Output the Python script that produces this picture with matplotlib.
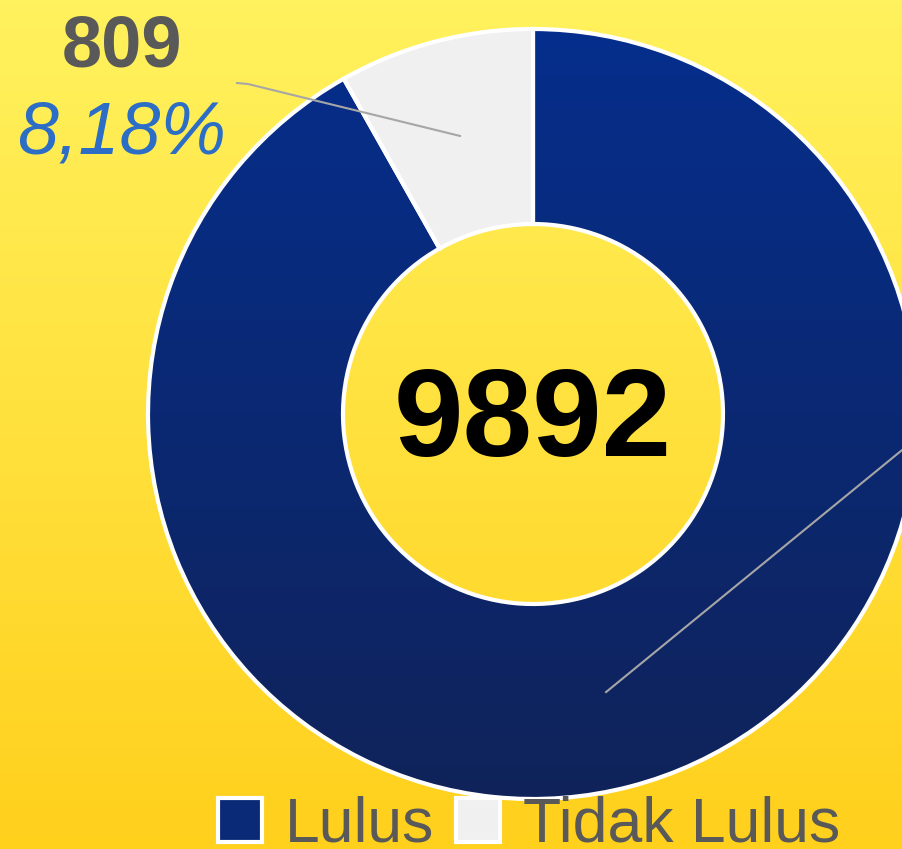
import numpy as np
import matplotlib.pyplot as plt
from matplotlib.colors import LinearSegmentedColormap
from matplotlib.patches import PathPatch, Patch

labels = ['Lulus', 'Tidak Lulus']
counts = [9083, 809]
colors = ['#0A2A78', '#F0F0F0']
total = sum(counts)

W, H = 902, 849
fig = plt.figure(figsize=(9.02, 8.49), dpi=100)
ax = fig.add_axes([0, 0, 1, 1])
plt.rcParams['font.family'] = ['Liberation Sans', 'DejaVu Sans']

# yellow background gradient
bg = LinearSegmentedColormap.from_list('bg', ['#FFD01C', '#FFF25E'])
grad = np.linspace(0, 1, 256).reshape(-1, 1)
ax.imshow(grad, cmap=bg, extent=[0, W, 0, H], origin='lower', aspect='auto', zorder=0)

cx, cy, R, r_in = 533, 435, 385, 190
wedges, _ = ax.pie(counts, colors=colors, startangle=90, counterclock=False,
                   center=(cx, cy), radius=R, frame=True,
                   wedgeprops=dict(width=R - r_in, linewidth=0, zorder=1))

# blue gradient inside the Lulus wedge
blue = LinearSegmentedColormap.from_list('blue', ['#10235A', '#052E8C'])
im = ax.imshow(grad, cmap=blue, extent=[cx - R, cx + R, cy - R, cy + R],
               origin='lower', aspect='auto', zorder=1.5)
im.set_clip_path(wedges[0])

# white edges on top
for w in wedges:
    ax.add_patch(PathPatch(w.get_path(), fc='none', ec='white', lw=3, zorder=2,
                           transform=ax.transData))

# leader lines
def mid_point(w, rad):
    a = np.deg2rad((w.theta1 + w.theta2) / 2)
    return cx + rad * np.cos(a), cy + rad * np.sin(a)

rm = (R + r_in) / 2
x0, y0 = mid_point(wedges[1], rm)
ax.plot([237, 248, x0], [766, 765, y0], color='#A6A6A6', lw=1.5, zorder=3)
x1, y1 = mid_point(wedges[0], rm)
ax.plot([x1, x1 + 400], [y1, y1 + 400 * 0.8176], color='#A6A6A6', lw=1.5, zorder=3)

# data label for Tidak Lulus
pct = f"{100 * counts[1] / total:.2f}".replace('.', ',') + '%'
ax.text(122, 802, str(counts[1]), ha='center', va='center', fontsize=52,
        fontweight='bold', color='#595959')
ax.text(122, 715, pct, ha='center', va='center', fontsize=53,
        fontstyle='italic', color='#2C6DC5')

# total in the middle
ax.text(cx, cy - 10, str(total), ha='center', va='center', fontsize=90,
        fontweight='bold', color='black')

handles = [Patch(facecolor=c, edgecolor='white', linewidth=3) for c in colors]
ax.legend(handles, labels, loc='center', bbox_to_anchor=(529 / W, 0.028),
          ncol=2, frameon=False, fontsize=45, labelcolor='#595959',
          handlelength=0.7, handleheight=0.7, handletextpad=0.37,
          columnspacing=0.35, borderpad=0)

ax.set_xlim(0, W)
ax.set_ylim(0, H)
ax.set_aspect('auto')
ax.axis('off')
fig.savefig('out.png', dpi=100)
